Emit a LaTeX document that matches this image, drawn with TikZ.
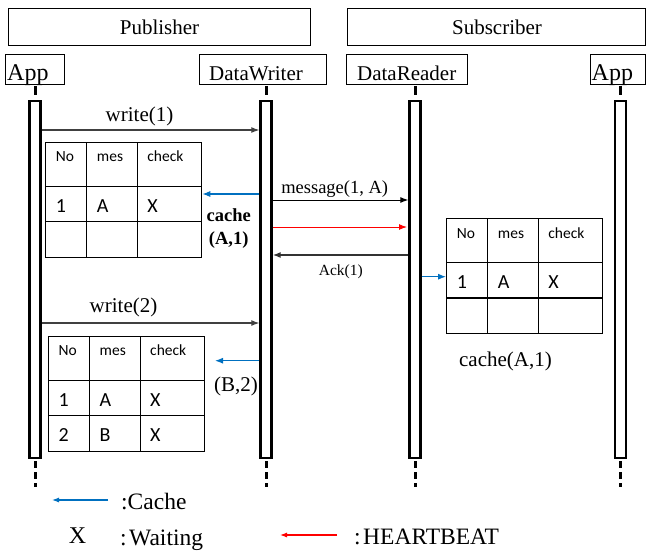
\documentclass[tikz,border=0pt]{standalone}
\usepackage{fontspec}
\setmainfont{Liberation Serif}
\newfontfamily\tblfont{Carlito}
\usetikzlibrary{arrows.meta}
\newcommand\fsz[1]{\fontsize{#1}{#1}\selectfont}
\definecolor{cblue}{HTML}{0070C0}
\newcommand\ctable[6]{%
\begin{scope}[shift={(#2,#3)}]
\node[tbl] (#1) at (78,57.5) {};
\draw[tline] (41,0) -- (41,115) (92,0) -- (92,115) (0,44) -- (156,44) (0,79.5) -- (156,79.5);
\node[hcell] (#1-h1) at (10,19.5) {No};
\node[hcell] (#1-h2) at (51,19.5) {mes};
\node[hcell] (#1-h3) at (101.5,19.5) {check};
\node[dcell] (#1-a1) at (10,70) {#4};
\node[dcell] (#1-b1) at (51,70) {#5};
\node[dcell] (#1-c1) at (101.5,70) {#6};
\end{scope}}
\begin{document}
\begin{tikzpicture}[x=1pt,y=-1pt,
  box/.style={draw=black, line width=0.9pt, inner sep=0pt, outer sep=0pt},
  ttl/.style={anchor=base, inner sep=0pt, font=\fsz{21}},
  bar/.style={draw=black, fill=white, line width=2.4pt, minimum width=11pt, minimum height=357pt, inner sep=0pt, outer sep=1.2pt},
  topdash/.style={line width=3pt},
  botdash/.style={line width=3pt, dash pattern=on 7pt off 4pt},
  tbl/.style={draw=black, line width=1.2pt, minimum width=156pt, minimum height=115pt, inner sep=0pt, outer sep=0.6pt},
  tline/.style={draw=black, line width=1.2pt},
  hcell/.style={anchor=base west, inner sep=0pt, font=\tblfont\fsz{15.5}},
  dcell/.style={anchor=base west, inner sep=0pt, font=\tblfont\fsz{20}},
  lbl/.style={anchor=base, inner sep=0pt, font=\fsz{21}},
  tip/.style={-{Latex[length=8pt,width=6pt]}},
  wr/.style={draw=black!75, line width=1.1pt, tip},
  msgarr/.style={draw=black, line width=1pt, tip},
  ackarr/.style={draw=black!80, line width=1.3pt, tip},
  hbarr/.style={draw=red, line width=1pt, tip},
  carr/.style={draw=cblue, line width=1.1pt, tip},
  lgd/.style={anchor=base west, inner sep=0pt, font=\fsz{23.5}}
]
\useasboundingbox (0,0) rectangle (646,552);

% header boxes
\node[box, minimum width=301.7pt, minimum height=37.4pt] (pub) at (159.15,27) {};
\node[box, minimum width=298.2pt, minimum height=37.4pt] (sub) at (496.4,27) {};
\node[ttl] (pubt) at (159.5,34) {Publisher};
\node[ttl] (subt) at (497,34) {Subscriber};

\node[box, minimum width=58.3pt, minimum height=30.5pt] (app1) at (34.85,69.25) {};
\node[box, minimum width=126.7pt, minimum height=30.5pt] (dw) at (262.65,69.25) {};
\node[box, minimum width=120.6pt, minimum height=30.5pt] (dr) at (407,69.25) {};
\node[box, minimum width=55.5pt, minimum height=30.5pt] (app2) at (617.75,69.25) {};
\node[anchor=base west, inner sep=0pt, font=\fsz{24}] (app1t) at (7,80) {App};
\node[ttl] (dwt) at (256,80) {DataWriter};
\node[ttl] (drt) at (406.7,80) {DataReader};
\node[anchor=base west, inner sep=0pt, font=\fsz{24}] (app2t) at (591.5,80) {App};

% lifelines
\node[bar] (b1) at (35,279.5) {};
\node[bar] (b2) at (266,279.5) {};
\node[bar] (b3) at (415,279.5) {};
\node[bar] (b4) at (620.5,279.5) {};
\foreach \b in {b1,b2,b3,b4}{
  \draw[topdash] (\b.north) ++(0,-14) -- ++(0,9);
  \draw[botdash] (\b.south) ++(0,2) -- ++(0,26);
}

% tables
\ctable{t1}{45.7}{142.3}{1}{A}{X}
\ctable{t2}{446.7}{218.5}{1}{A}{X}
\ctable{t3}{48.5}{336.3}{1}{A}{X}
\begin{scope}[shift={(48.5,336.3)}]
\node[dcell] (t3-a2) at (10,105) {2};
\node[dcell] (t3-b2) at (51,105) {B};
\node[dcell] (t3-c2) at (101.5,105) {X};
\end{scope}

% messages
\draw[wr] (b1.east |- 0,130) -- (b2.west |- 0,130);
\node[lbl] (w1) at (139.5,121) {write(1)};
\draw[carr] (b2.west |- 0,194) -- (t1.east |- 0,194);
\node[anchor=base, inner sep=0pt, font=\bfseries\fsz{18.5}] (ca1) at (228.7,221.7) {cache};
\node[anchor=base, inner sep=0pt, font=\bfseries\fsz{18.5}] (ca2) at (228.7,244) {(A,1)};
\draw[msgarr] (b2.east |- 0,200) -- (b3.west |- 0,200);
\node[anchor=base, inner sep=0pt, font=\fsz{18.5}] (m1) at (334.7,193) {message(1, A)};
\coordinate (hbend) at (407,227);
\draw[hbarr] (b2.east |- 0,227) -- (hbend);
\draw[ackarr] (b3.west |- 0,255) -- (b2.east |- 0,255);
\node[anchor=base, inner sep=0pt, font=\fsz{15.5}] (ack) at (340.8,275) {Ack(1)};
\draw[carr] (b3.east |- 0,276.7) -- (t2.west |- 0,276.7);
\node[lbl] (c2) at (505.5,366.7) {cache(A,1)};
\draw[wr] (b1.east |- 0,323) -- (b2.west |- 0,323);
\node[lbl] (w2) at (123.5,312) {write(2)};
\coordinate (c3end) at (215,360.7);
\draw[carr] (b2.west |- 0,360.7) -- (c3end);
\node[lbl] (b2lbl) at (236,391.7) {(B,2)};

% legend
\coordinate (lg1s) at (108,500);
\coordinate (lg1e) at (52,500);
\draw[draw=cblue, line width=1.1pt, -{Latex[length=7pt,width=5pt]}] (lg1s) -- (lg1e);
\node[lgd] (lgc) at (121,509) {:Cache};
\node[anchor=base, inner sep=0pt, font=\fsz{24}] (lgx) at (77.5,543) {X};
\node[lgd] (lgw) at (120,545) {:\hspace{2.5pt}Waiting};
\coordinate (lg2s) at (337,535);
\coordinate (lg2e) at (280,535);
\draw[draw=red, line width=1.1pt, -{Latex[length=7pt,width=5pt]}] (lg2s) -- (lg2e);
\node[lgd] (lgh) at (354,544) {:\hspace{2.5pt}HEARTBEAT};
\end{tikzpicture}
\end{document}
